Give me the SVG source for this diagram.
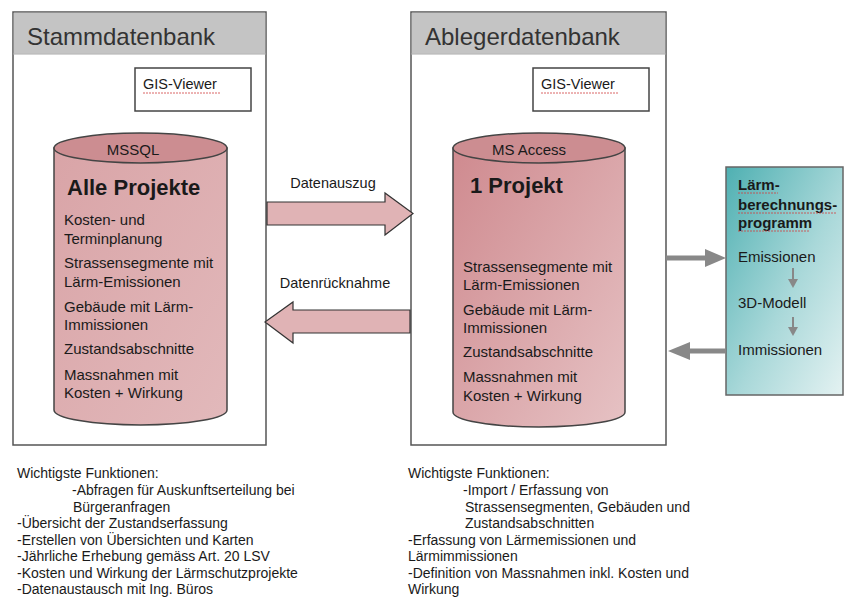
<svg xmlns="http://www.w3.org/2000/svg" width="849" height="599" viewBox="0 0 849 599">
<defs>
<linearGradient id="cylL" x1="0" y1="0" x2="1" y2="1">
<stop offset="0" stop-color="#d9a4a7"/><stop offset="1" stop-color="#e2b9bb"/>
</linearGradient>
<linearGradient id="cylR" x1="0" y1="0" x2="1" y2="1">
<stop offset="0" stop-color="#cf8a8f"/><stop offset="1" stop-color="#e6c2c4"/>
</linearGradient>
<linearGradient id="teal" x1="0" y1="0" x2="1" y2="1">
<stop offset="0" stop-color="#4fb0b2"/><stop offset="0.55" stop-color="#a9d8d9"/><stop offset="1" stop-color="#e4f2f2"/>
</linearGradient>
</defs>
<style>
text{font-family:"Liberation Sans",Arial,sans-serif;fill:#1a1a1a}
.panel{fill:#fff;stroke:#555;stroke-width:1.5}
.hdr{fill:#c4c4c4}
.htxt{font-size:24px;fill:#333}
.gis{fill:#fff;stroke:#444;stroke-width:1.5}
.gtxt{font-size:14.5px}
.cyl{stroke:#444;stroke-width:1.5}
.top{fill:#cc8d91;stroke:#444;stroke-width:1.5}
.t15{font-size:15px}
.big{font-size:22px;font-weight:bold}
.arr{fill:#e0b3b5;stroke:#333;stroke-width:1.2}
.lbl{font-size:14.5px;text-anchor:middle}
.ga{stroke:#888;stroke-width:5;fill:none}
.gh{fill:#888}
.sm{font-size:14px}
.squig{stroke:#d04040;stroke-width:0.8;fill:none;stroke-dasharray:2 1}
</style>

<g id="stammdatenbank">
<rect class="panel" x="13" y="12" width="253" height="433"/>
<rect class="hdr" x="13.75" y="12.75" width="251.5" height="41"/>
<line x1="13" y1="54" x2="266" y2="54" stroke="#aaa" stroke-width="1"/>
<text class="htxt" x="27" y="45">Stammdatenbank</text>
</g>

<g id="gis1">
<rect class="gis" x="135" y="68" width="116" height="43"/>
<text class="gtxt" x="143" y="89">GIS-Viewer</text>
<line class="squig" x1="143" y1="93" x2="220" y2="93"/>
</g>

<g id="mssql">
<path class="cyl" fill="url(#cylL)" d="M54,148 L54,410 A86.5,15 0 0 0 227,410 L227,148 Z"/>
<ellipse class="top" cx="140.5" cy="148" rx="86.5" ry="15"/>
<text class="t15" x="133" y="155" text-anchor="middle">MSSQL</text>
<text class="big" x="67" y="195">Alle Projekte</text>
<text class="t15" x="64" y="225">Kosten- und</text>
<text class="t15" x="64" y="244">Terminplanung</text>
<text class="t15" x="64" y="268">Strassensegmente mit</text>
<text class="t15" x="64" y="287">Lärm-Emissionen</text>
<text class="t15" x="64" y="312">Gebäude mit Lärm-</text>
<text class="t15" x="64" y="330">Immissionen</text>
<text class="t15" x="64" y="354">Zustandsabschnitte</text>
<text class="t15" x="64" y="380">Massnahmen mit</text>
<text class="t15" x="64" y="398">Kosten + Wirkung</text>
</g>

<g id="ablegerdatenbank">
<rect class="panel" x="411" y="12" width="255" height="433"/>
<rect class="hdr" x="411.75" y="12.75" width="253.5" height="41"/>
<line x1="411" y1="54" x2="666" y2="54" stroke="#aaa" stroke-width="1"/>
<text class="htxt" x="425" y="45">Ablegerdatenbank</text>
</g>

<g id="gis2">
<rect class="gis" x="533" y="68" width="116" height="43"/>
<text class="gtxt" x="541" y="89">GIS-Viewer</text>
<line class="squig" x1="541" y1="93" x2="618" y2="93"/>
</g>

<g id="msaccess">
<path class="cyl" fill="url(#cylR)" d="M453,148 L453,412 A86,15 0 0 0 625,412 L625,148 Z"/>
<ellipse class="top" cx="539" cy="148" rx="86" ry="15"/>
<text class="t15" x="529" y="155" text-anchor="middle">MS Access</text>
<text class="big" x="470" y="193">1 Projekt</text>
<text class="t15" x="463" y="272">Strassensegmente mit</text>
<text class="t15" x="463" y="290">Lärm-Emissionen</text>
<text class="t15" x="463" y="315">Gebäude mit Lärm-</text>
<text class="t15" x="463" y="333">Immissionen</text>
<text class="t15" x="463" y="357">Zustandsabschnitte</text>
<text class="t15" x="463" y="382">Massnahmen mit</text>
<text class="t15" x="463" y="401">Kosten + Wirkung</text>
</g>

<g id="laermprogramm">
<rect x="726" y="167" width="117" height="228" fill="url(#teal)" stroke="#666" stroke-width="1.5"/>
<text class="t15" x="738" y="190" font-weight="bold">Lärm-</text>
<text class="t15" x="738" y="210" font-weight="bold">berechnungs-</text>
<text class="t15" x="738" y="228" font-weight="bold">programm</text>
<line class="squig" x1="738" y1="193" x2="778" y2="193"/>
<line class="squig" x1="738" y1="213" x2="836" y2="213"/>
<line class="squig" x1="738" y1="231" x2="810" y2="231"/>
<text class="t15" x="738" y="262">Emissionen</text>
<text class="t15" x="738" y="308">3D-Modell</text>
<text class="t15" x="738" y="355">Immissionen</text>
<line x1="793" y1="268" x2="793" y2="281" stroke="#888" stroke-width="2"/>
<path class="gh" d="M788,279 L798,279 L793,288 Z"/>
<line x1="793" y1="317" x2="793" y2="329" stroke="#888" stroke-width="2"/>
<path class="gh" d="M788,327 L798,327 L793,336 Z"/>
</g>

<g id="connectors">
<path class="arr" d="M267,202 L385,202 L385,193 L413,213.5 L385,235 L385,225 L267,225 Z"/>
<text class="lbl" x="333" y="188">Datenauszug</text>
<path class="arr" d="M410,310 L293,310 L293,302 L265,322 L293,343 L293,333 L410,333 Z"/>
<text class="lbl" x="335" y="288">Datenrücknahme</text>
<line class="ga" x1="666" y1="258" x2="708" y2="258"/>
<path class="gh" d="M705,249 L726,258 L705,267 Z"/>
<line class="ga" x1="726" y1="351" x2="688" y2="351"/>
<path class="gh" d="M690,342 L668,351 L690,360 Z"/>
</g>

<g id="funktionen1">
<text class="sm" x="17" y="478">Wichtigste Funktionen:</text>
<text class="sm" x="72" y="495">-Abfragen für Auskunftserteilung bei</text>
<text class="sm" x="73" y="512">Bürgeranfragen</text>
<text class="sm" x="17" y="528">-Übersicht der Zustandserfassung</text>
<text class="sm" x="17" y="545">-Erstellen von Übersichten und Karten</text>
<text class="sm" x="17" y="561">-Jährliche Erhebung gemäss Art. 20 LSV</text>
<text class="sm" x="17" y="578">-Kosten und Wirkung der Lärmschutzprojekte</text>
<text class="sm" x="17" y="594">-Datenaustausch mit Ing. Büros</text>
</g>

<g id="funktionen2">
<text class="sm" x="408" y="478">Wichtigste Funktionen:</text>
<text class="sm" x="463" y="495">-Import / Erfassung von</text>
<text class="sm" x="465" y="512">Strassensegmenten, Gebäuden und</text>
<text class="sm" x="465" y="528">Zustandsabschnitten</text>
<text class="sm" x="408" y="545">-Erfassung von Lärmemissionen und</text>
<text class="sm" x="408" y="561">Lärmimmissionen</text>
<text class="sm" x="408" y="578">-Definition von Massnahmen inkl. Kosten und</text>
<text class="sm" x="408" y="594">Wirkung</text>
</g>
</svg>
